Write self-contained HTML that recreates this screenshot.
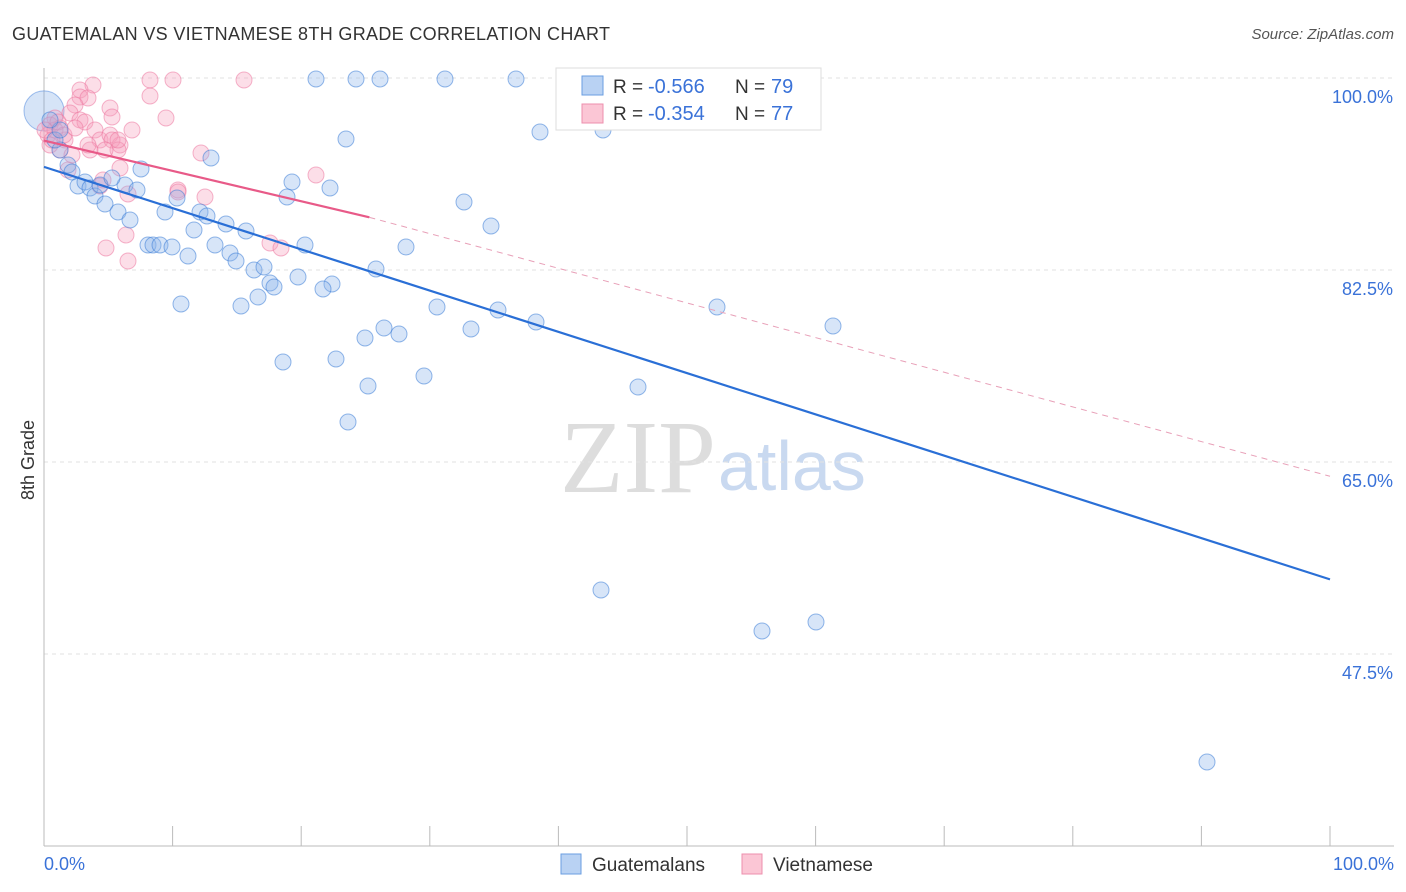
<!DOCTYPE html>
<html><head><meta charset="utf-8"><style>
body{margin:0;background:#fff;font-family:"Liberation Sans",sans-serif;}
svg{display:block}
</style></head><body>
<svg id="chart" width="1406" height="892">
<text x="12" y="40" font-size="18" fill="#333" textLength="598">GUATEMALAN VS VIETNAMESE 8TH GRADE CORRELATION CHART</text>
<text x="1394" y="39" font-size="15" fill="#555" font-style="italic" text-anchor="end">Source: ZipAtlas.com</text>
<text x="34" y="460" font-size="18" fill="#333" transform="rotate(-90 34 460)" text-anchor="middle">8th Grade</text>
<text x="716" y="492" font-size="104" fill="#ddd" text-anchor="end" font-family="Liberation Serif,serif">ZIP</text>
<text x="718" y="490" font-size="70" fill="#c9d9f0">atlas</text>
<g id="grid"></g><g id="axes"></g><g id="pts"></g><g id="lines"></g>
<g>
<rect x="556" y="68" width="265" height="62" fill="#fff" stroke="#ddd"/>
<rect x="582" y="76" width="21" height="19" fill="#b9d2f3" stroke="#6a9ee0"/>
<rect x="582" y="104" width="21" height="19" fill="#fbc6d5" stroke="#ec8fad"/>
<text x="613" y="93" font-size="19" fill="#333">R = </text><text x="648" y="93" font-size="20" fill="#3a72d8">-0.566</text>
<text x="735" y="93" font-size="19" fill="#333">N = </text><text x="771" y="93" font-size="20" fill="#3a72d8">79</text>
<text x="613" y="120" font-size="19" fill="#333">R = </text><text x="648" y="120" font-size="20" fill="#3a72d8">-0.354</text>
<text x="735" y="120" font-size="19" fill="#333">N = </text><text x="771" y="120" font-size="20" fill="#3a72d8">77</text>
</g>
<g>
<rect x="561" y="854" width="20" height="20" fill="#b9d2f3" stroke="#6a9ee0"/>
<text x="592" y="871" font-size="19" fill="#333">Guatemalans</text>
<rect x="742" y="854" width="20" height="20" fill="#fbc6d5" stroke="#ec8fad"/>
<text x="773" y="871" font-size="19" fill="#333">Vietnamese</text>
</g>
<text x="44" y="870" font-size="18" fill="#3a72d8">0.0%</text>
<text x="1394" y="870" font-size="18" fill="#3a72d8" text-anchor="end">100.0%</text>
</svg>
<script>
const yTicks=[100,82.5,65,47.5];
const yTickLabels=["100.0%","82.5%","65.0%","47.5%"];
const xTicks=[0,10,20,30,40,50,60,70,80,90,100];
const bluePx=[[316,79],[356,79],[380,79],[445,79],[516,79],[797,79],[540,132],[603,130],[346,139],[211,158],[141,169],[292,182],[330,188],[287,197],[464,202],[491,226],[177,198],[165,212],[200,212],[207,216],[226,224],[246,231],[194,230],[305,245],[406,247],[148,245],[153,245],[160,245],[172,247],[215,245],[188,256],[230,253],[236,261],[254,270],[264,267],[376,269],[298,277],[270,283],[274,287],[258,297],[332,284],[323,289],[181,304],[241,306],[437,307],[498,310],[717,307],[536,322],[833,326],[384,328],[471,329],[365,338],[399,334],[283,362],[336,359],[368,386],[424,376],[638,387],[348,422],[601,590],[762,631],[816,622],[1207,762],[60,150],[68,165],[72,172],[78,186],[85,182],[90,188],[95,196],[100,185],[105,204],[118,212],[125,185],[130,220],[137,190],[112,178],[55,140],[60,130],[50,120]];
const pinkPx=[[93,85],[80,90],[150,80],[173,80],[244,80],[150,96],[80,97],[88,98],[75,105],[110,108],[166,118],[112,117],[70,113],[55,118],[60,128],[50,125],[48,135],[65,140],[80,120],[85,122],[95,130],[100,140],[110,135],[120,145],[132,130],[112,140],[118,150],[60,150],[72,155],[90,150],[50,145],[201,153],[316,175],[178,190],[205,197],[178,192],[103,180],[100,186],[128,194],[270,243],[281,248],[126,235],[106,248],[128,261],[120,168],[68,170],[55,130],[58,122],[64,135],[75,128],[88,145],[105,150],[118,140],[45,130],[52,140]];
const blueX=bluePx.map(p=>(p[0]-44)/12.86), blueY=bluePx.map(p=>100-(p[1]-78)/10.971);
const pinkX=pinkPx.map(p=>(p[0]-44)/12.86), pinkY=pinkPx.map(p=>100-(p[1]-78)/10.971);
const blueTrend=[[0,91.9],[100,54.3]];
const pinkTrend=[[0,94.3],[25.3,87.3],[100,63.7]];
const X=v=>44+v*12.86, Y=v=>78+(100-v)*10.971;
const NS='http://www.w3.org/2000/svg';
function mk(tag,attrs,parent){const e=document.createElementNS(NS,tag);for(const k in attrs)e.setAttribute(k,attrs[k]);document.getElementById(parent).appendChild(e);return e;}
yTicks.forEach((t,i)=>{
 const l=mk('line',{x1:44,x2:1394,y1:Y(t),y2:Y(t),stroke:'#e2e2e2','stroke-dasharray':'4,4'},'grid');
 
 
 const tx=mk('text',{x:1393,y:Y(t)+25,'font-size':18,fill:'#3a72d8','text-anchor':'end'},'grid');
 tx.textContent=yTickLabels[i];
 
 
});
const ax=mk('line',{x1:44,x2:44,y1:68,y2:846,stroke:'#bbb'},'axes');


const bx=mk('line',{x1:44,x2:1394,y1:846,y2:846,stroke:'#bbb'},'axes');


xTicks.forEach(t=>{const l=mk('line',{x1:X(t),x2:X(t),y1:826,y2:846,stroke:'#bbb'},'axes');
 
 });
const big=mk('circle',{cx:X(0),cy:Y(97),r:20,fill:'rgba(120,165,230,0.3)',stroke:'rgba(70,130,220,0.5)'},'pts');


pinkX.forEach((x,i)=>{const c=mk('circle',{cx:X(x),cy:Y(pinkY[i]),r:8,fill:'rgba(247,160,190,0.35)',stroke:'rgba(236,120,160,0.55)'},'pts');
 
 });
blueX.forEach((x,i)=>{const c=mk('circle',{cx:X(x),cy:Y(blueY[i]),r:8,fill:'rgba(140,180,235,0.35)',stroke:'rgba(60,125,215,0.55)'},'pts');
 
 });
const bl=mk('line',{x1:X(blueTrend[0][0]),y1:Y(blueTrend[0][1]),x2:X(blueTrend[1][0]),y2:Y(blueTrend[1][1]),stroke:'#2a6fd6','stroke-width':2.2},'lines');


const pl=mk('line',{x1:X(pinkTrend[0][0]),y1:Y(pinkTrend[0][1]),x2:X(pinkTrend[1][0]),y2:Y(pinkTrend[1][1]),stroke:'#e85a88','stroke-width':2.2},'lines');


const pd=mk('line',{x1:X(pinkTrend[1][0]),y1:Y(pinkTrend[1][1]),x2:X(pinkTrend[2][0]),y2:Y(pinkTrend[2][1]),stroke:'#e8a0b8','stroke-width':1,'stroke-dasharray':'6,5'},'lines');


</script>
</body></html>
